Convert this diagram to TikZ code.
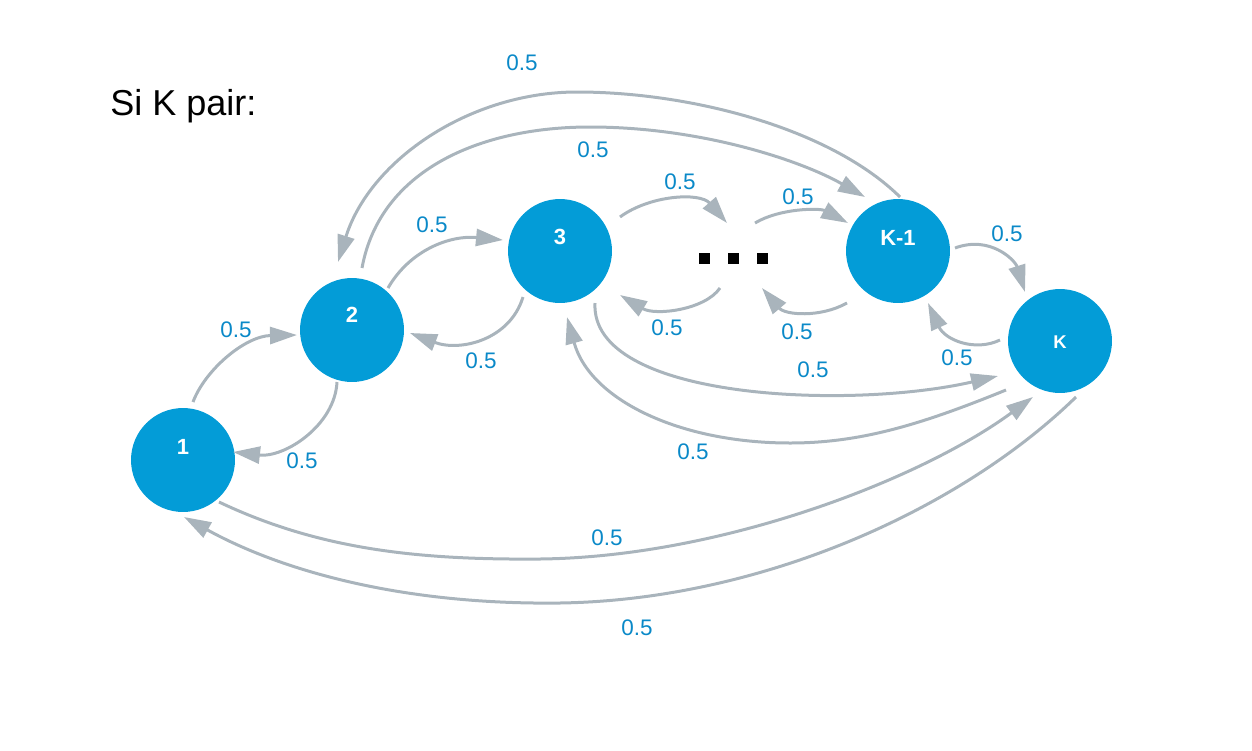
\documentclass[tikz,border=0pt]{standalone}
\usepackage{fontspec}
\setmainfont{Liberation Sans}
\usetikzlibrary{calc,arrows.meta}
\definecolor{nodeblue}{HTML}{039CD7}
\definecolor{lblblue}{HTML}{0A89C8}
\definecolor{edgegrey}{HTML}{A9B4BC}
\tikzset{
  state/.style={circle, fill=nodeblue, minimum size=2.08cm, inner sep=0pt, outer sep=0pt},
  statetext/.style={text=white, font=\bfseries\fontsize{12.5}{14}\selectfont, inner sep=0pt},
  lbl/.style={text=lblblue, font=\fontsize{12.8}{14}\selectfont, inner sep=0pt},
  edge/.style={draw=edgegrey, line width=0.06cm, -{Triangle[length=0.54cm,width=0.34cm]}},
  sq/.style={fill=black, minimum size=0.22cm, inner sep=0pt, outer sep=0pt},
}
\begin{document}
\begin{tikzpicture}[x=0.02cm, y=-0.02cm]
\path[use as bounding box] (0,0) rectangle (1252,751);

\node[anchor=base west, font=\fontsize{20.5}{24}\selectfont, inner sep=0pt] (title) at (110,115) {Si K pair:};

\node[state, label={[statetext, yshift=0.26cm]center:1}] (n1) at (183,460) {};
\node[state, label={[statetext, yshift=0.30cm]center:2}] (n2) at (352,330) {};
\node[state, label={[statetext, yshift=0.28cm]center:3}] (n3) at (560,251) {};
\node[state, label={[statetext, yshift=0.26cm]center:K-1}] (nk1) at (898,251) {};
\node[state, label={[statetext, font=\bfseries\fontsize{10.5}{12}\selectfont, yshift=-0.02cm]center:K}] (nk) at (1060,341) {};

\node[sq] (d1) at (704,258) {};
\node[sq] (d2) at (733,258) {};
\node[sq] (d3) at (762,258) {};

% 1 -> 2
\draw[edge] ($(n1)+(10,-58)$) .. controls (205,370) and (245,336) .. ($(n2)+(-55,5)$);
% 2 -> 1
\draw[edge] ($(n2)+(-15,52)$) .. controls (335,425) and (285,458) .. ($(n1)+(50,-8)$);
% 2 -> 3
\draw[edge] ($(n2)+(36,-42)$) .. controls (410,250) and (450,235) .. ($(n3)+(-57,-11)$);
% 3 -> 2
\draw[edge] ($(n3)+(-37,46)$) .. controls (510,340) and (460,352) .. ($(n2)+(58,3)$);
% 3 -> dots
\draw[edge] ($(n3)+(60,-34)$) .. controls (650,195) and (700,192) .. ($(d2)+(-6,-35)$);
% dots -> K-1
\draw[edge] ($(d2)+(22,-35)$) .. controls (780,208) and (820,208) .. ($(nk1)+(-50,-28)$);
% dots -> 3
\draw[edge] ($(d2)+(-13,30)$) .. controls (705,310) and (655,316) .. ($(n3)+(60,44)$);
% K-1 -> dots
\draw[edge] ($(nk1)+(-51,52)$) .. controls (820,318) and (785,315) .. ($(d2)+(29,30)$);
% K-1 -> K
\draw[edge] ($(nk1)+(57,-3)$) .. controls (990,235) and (1015,260) .. ($(nk)+(-35,-49)$);
% K -> K-1
\draw[edge] ($(nk)+(-60,-1)$) .. controls (975,352) and (945,340) .. ($(nk1)+(30,52)$);
% 3 -> K
\draw[edge] ($(n3)+(35,52)$) .. controls (590,400) and (850,410) .. ($(nk)+(-62,35)$);
% K -> 3
\draw[edge] ($(nk)+(-54,49)$) .. controls (920,425) and (860,443) .. (790,443) .. controls (680,443) and (590,400) .. ($(n3)+(7,66)$);
% 1 -> K
\draw[edge] ($(n1)+(36,42)$) .. controls (320,550) and (420,560) .. (540,559) .. controls (720,557) and (920,480) .. ($(nk)+(-27,56)$);
% K -> 1
\draw[edge] ($(nk)+(16,56)$) .. controls (960,510) and (760,600) .. (560,603) .. controls (400,605) and (280,570) .. ($(n1)+(1,57)$);
% K-1 -> 2 (outer)
\draw[edge] ($(nk1)+(2,-54)$) .. controls (830,128) and (690,92) .. (577,92) .. controls (470,92) and (370,160) .. ($(n2)+(-14,-68)$);
% 2 -> K-1 (inner)
\draw[edge] ($(n2)+(10,-62)$) .. controls (380,170) and (480,127) .. (590,127) .. controls (700,127) and (800,160) .. ($(nk1)+(-33,-54)$);

\node[lbl] (l1) at (236,330) {0.5};
\node[lbl] (l2) at (302,461) {0.5};
\node[lbl] (l3) at (432,225) {0.5};
\node[lbl] (l4) at (481,361) {0.5};
\node[lbl] (l5) at (680,182) {0.5};
\node[lbl] (l6) at (798,197) {0.5};
\node[lbl] (l7) at (667,328) {0.5};
\node[lbl] (l8) at (797,332) {0.5};
\node[lbl] (l9) at (1007,234) {0.5};
\node[lbl] (l10) at (957,358) {0.5};
\node[lbl] (l11) at (813,370) {0.5};
\node[lbl] (l12) at (693,452) {0.5};
\node[lbl] (l13) at (607,538) {0.5};
\node[lbl] (l14) at (637,628) {0.5};
\node[lbl] (l15) at (522,63) {0.5};
\node[lbl] (l16) at (593,150) {0.5};
\end{tikzpicture}
\end{document}
